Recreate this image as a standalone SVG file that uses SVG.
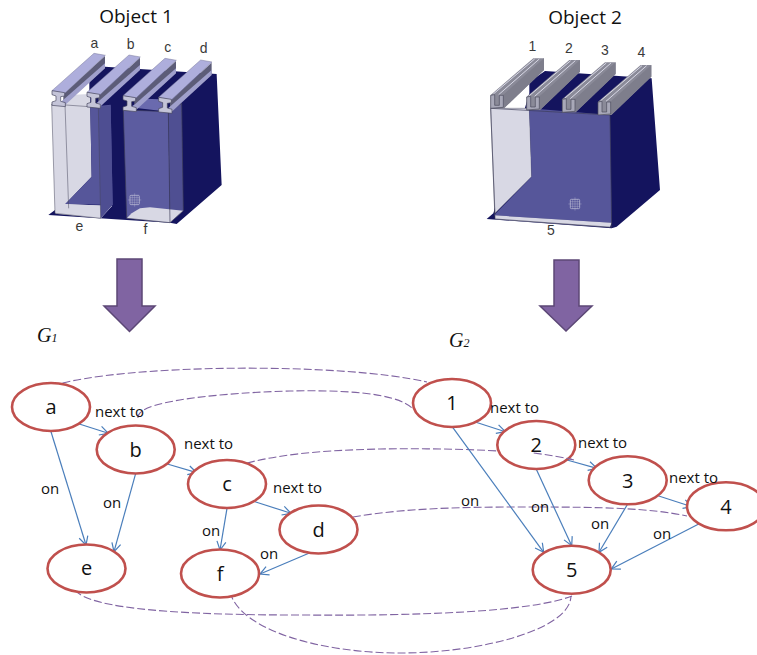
<svg xmlns="http://www.w3.org/2000/svg" width="757" height="655" viewBox="0 0 757 655">
<style>
text{font-family:"Open Sans","Noto Sans",sans-serif;fill:#111}
.t{font-size:19px;text-anchor:middle}
.o{font-family:"Liberation Sans",Arial,sans-serif;font-size:42px;fill:#3a3a3a;text-anchor:middle}
.n{font-size:20px;text-anchor:middle}
.l{font-size:15px}
.g{font-family:"Liberation Serif",serif;font-style:italic;font-size:20px}
.g tspan{font-size:12px}
ellipse{fill:#fff;stroke:#c0504d;stroke-width:2.6}
.c{fill:none;stroke:#4a7ebb;stroke-width:1.2;marker-end:url(#ah)}
.d{fill:none;stroke:#8064a2;stroke-width:1.1;stroke-dasharray:8 3}
.big{fill:#8064a2;stroke:#5c4776;stroke-width:1.5}
.navy{fill:#14145e}
.lt{fill:#d8d8e4}
.blue{fill:#56569a}
.edge{fill:none;stroke:#3c3c58;stroke-width:2}
.x{fill:none;stroke:#c8c8dc;stroke-width:2}
</style>
<defs>
<marker id="ah" markerUnits="userSpaceOnUse" markerWidth="12" markerHeight="12" refX="9.5" refY="5" orient="auto" overflow="visible"><path d="M1,0.5L9.5,5L1,9.5" fill="none" stroke="#4a7ebb" stroke-width="1.2"/></marker>
<g id="ibeam">
<path d="M100,282L225,168V205L100,316Z" fill="#5c5c78"/>
<path d="M95,304L225,190V205L102,318Z" fill="#a0a0cc"/>
<path d="M66,272L192,160L226,166L104,280Z" fill="#aeaedc" stroke="#7a7a9c" stroke-width="1.5"/>
<path d="M66,272L104,278V288L92,290V304L106,308V320L66,316V306L78,302V288L66,284Z" fill="#c4c4d8" stroke="#44445c" stroke-width="2"/>
</g>
<g id="chan">
<path d="M62,285L190,175H222V210L102,325H62Z" fill="#8a8a98"/>
<path d="M98,286L222,175V210L102,325Z" fill="#7e7e8c"/>
<path d="M70,282L194,177M86,284L208,177" fill="none" stroke="#d8d8e6" stroke-width="3"/>
<path d="M62,286L74,284V316L88,316V286L100,286V322L62,325Z" fill="#a8a8b8" stroke="#4a4a5c" stroke-width="2"/>
</g>
<g id="cross"><rect x="-14" y="-14" width="28" height="28" rx="3" class="x"/><path d="M-20,0H20M0,-20V20M-14,-7H14M-14,7H14M-7,-14V14M7,-14V14" fill="none" stroke="#c8c8dc" stroke-width="1"/></g>
</defs>

<g id="object1">
<text class="t" x="136" y="23">Object 1</text>
<g transform="translate(30,0) scale(.3333)">
<path class="navy" d="M178,270V240L225,200L560,222L575,555L440,672L420,668L55,645L75,630Z"/>
<path class="lt" d="M65,312L105,300L115,285L180,282L185,530L106,612L246,618L212,655L75,640Z"/>
<path class="blue" d="M180,282L205,318L242,314L248,615L106,612L185,530Z"/>
<path class="lt" d="M106,612L246,618L212,655L76,641Z"/>
<path d="M205,322L242,316L248,615L212,655Z" fill="#4e4e92"/>
<path d="M65,312L205,322L212,655L75,640Z M105,312L116,625" fill="none" stroke="#44445c" stroke-width="1.5"/>
<path d="M280,330L415,335L420,668L290,655Z" fill="#5c5ca0"/>
<path d="M300,322L340,296L390,298L415,335Z" fill="#6a6aae"/>
<path d="M415,335L455,310L460,632L420,668Z" fill="#4f4f92"/>
<path class="lt" d="M305,640L330,625L360,622L460,632L420,668L290,655Z"/>
<path d="M280,330L415,335L420,668L290,655Z M415,335L455,310L460,632L420,668" class="edge"/>
<use href="#ibeam"/>
<use href="#ibeam" x="105" y="5"/>
<use href="#ibeam" x="213" y="15"/>
<use href="#ibeam" x="320" y="20"/>
<use href="#cross" x="314" y="600"/>
<text class="o" x="193" y="143">a</text>
<text class="o" x="302" y="148">b</text>
<text class="o" x="413" y="155">c</text>
<text class="o" x="521" y="160">d</text>
<text class="o" x="148" y="693">e</text>
<text class="o" x="346" y="703">f</text>
</g>
</g>

<g id="object2">
<text class="t" x="585" y="24">Object 2</text>
<g transform="translate(470,0) scale(.3333)">
<path class="navy" d="M178,280V245L225,213L545,235L570,570L440,680L425,685L50,657L70,640Z"/>
<path d="M62,325L178,325L185,530L75,640Z" fill="#d8d8e4" stroke="#55556a" stroke-width="1.5"/>
<path class="blue" d="M178,325L420,345L425,668L72,646L185,530Z"/>
<path class="lt" d="M75,646L425,668L420,682L75,658Z"/>
<path d="M62,325L420,345L425,682L75,657Z" class="edge"/>
<use href="#chan"/>
<use href="#chan" x="108" y="5"/>
<use href="#chan" x="215" y="12"/>
<use href="#chan" x="322" y="20"/>
<use href="#cross" x="315" y="612"/>
<text class="o" x="187" y="153">1</text>
<text class="o" x="297" y="160">2</text>
<text class="o" x="405" y="165">3</text>
<text class="o" x="514" y="170">4</text>
<text class="o" x="243" y="705">5</text>
</g>
</g>

<g id="arrow1"><path class="big" d="M117,259H142V306H155L129.500,331.500L104,306H117Z"/></g>
<g id="arrow2"><path class="big" d="M554,260H579V306H592L566,331L540,306H554Z"/></g>
<text id="g1" class="g" x="37" y="342">G<tspan>1</tspan></text>
<text id="g2" class="g" x="449" y="347">G<tspan>2</tspan></text>

<g id="connectors">
<path class="d" d="M52,386C120,364 340,362 427,382"/>
<path class="d" d="M138,418C135,398 250,392 290,391C340,390 395,392 412,408"/>
<path class="d" d="M247,463C290,452 340,450 380,449C450,448 530,450 574,460"/>
<path class="d" d="M353,517C410,507 480,507 530,507C600,507 650,508 687,516"/>
<path class="d" d="M75,590C90,610 190,615 300,615C420,616 530,612 572,596"/>
<path class="d" d="M230,592C240,630 320,653 400,653C480,653 570,630 571,596"/>
<path class="c" d="M79.3,424L108.3,433.3"/>
<path class="c" d="M167.3,464L196.7,472.7"/>
<path class="c" d="M255,501.7L291,513.3"/>
<path class="c" d="M51,431.7L86,545"/>
<path class="c" d="M135.7,473.3L114,551.7"/>
<path class="c" d="M227,508.3L220,550"/>
<path class="c" d="M310,552.7L260,574"/>
<path class="c" d="M476,422.3L505.3,431.7"/>
<path class="c" d="M567,460L597,468.3"/>
<path class="c" d="M655.7,495L692,506.7"/>
<path class="c" d="M452.7,427.3L543.7,552.3"/>
<path class="c" d="M536.3,469.3L571.7,545.7"/>
<path class="c" d="M627.7,504L599,552.3"/>
<path class="c" d="M698.7,524L611.3,569"/>
</g>

<g id="a"><ellipse cx="51" cy="407" rx="39" ry="24"/><text class="n" x="51" y="414">a</text></g>
<g id="b"><ellipse cx="135.7" cy="449.5" rx="39" ry="24"/><text class="n" x="135.7" y="457">b</text></g>
<g id="c"><ellipse cx="227" cy="484" rx="39" ry="24"/><text class="n" x="227" y="491">c</text></g>
<g id="d"><ellipse cx="318.5" cy="529.5" rx="39" ry="24"/><text class="n" x="318.5" y="537">d</text></g>
<g id="e"><ellipse cx="86.5" cy="568.5" rx="39" ry="24"/><text class="n" x="86.500" y="575">e</text></g>
<g id="f"><ellipse cx="220" cy="573.5" rx="39" ry="24"/><text class="n" x="220" y="581">f</text></g>
<g id="n1"><ellipse cx="452" cy="403" rx="39" ry="24"/><text class="n" x="452" y="410">1</text></g>
<g id="n2"><ellipse cx="536.3" cy="445" rx="39" ry="24"/><text class="n" x="536.3" y="452">2</text></g>
<g id="n3"><ellipse cx="627.7" cy="480.3" rx="39" ry="24"/><text class="n" x="627.7" y="488">3</text></g>
<g id="n4"><ellipse cx="726" cy="506.3" rx="39" ry="24"/><text class="n" x="726" y="514">4</text></g>
<g id="n5"><ellipse cx="571.7" cy="569.7" rx="39" ry="24"/><text class="n" x="571.7" y="577">5</text></g>
<path class="d" d="M533.7,453C548,455 562,457 574,460"/>

<g id="labels">
<text class="l" x="95" y="417">next to</text>
<text class="l" x="184" y="449">next to</text>
<text class="l" x="273" y="493">next to</text>
<text class="l" x="41" y="494">on</text>
<text class="l" x="103" y="508">on</text>
<text class="l" x="202" y="536">on</text>
<text class="l" x="260" y="559">on</text>
<text class="l" x="490" y="413">next to</text>
<text class="l" x="578" y="448">next to</text>
<text class="l" x="669" y="483">next to</text>
<text class="l" x="461" y="506">on</text>
<text class="l" x="531" y="512">on</text>
<text class="l" x="591" y="529">on</text>
<text class="l" x="653" y="539">on</text>
</g>
</svg>
